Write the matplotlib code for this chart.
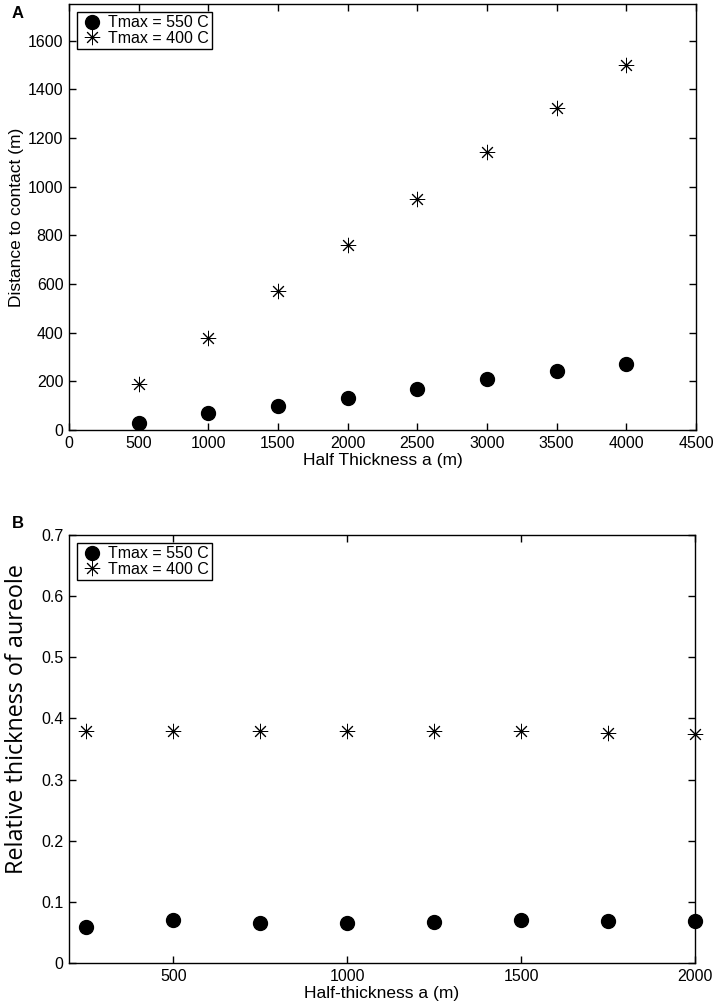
import matplotlib
matplotlib.use('Agg')
import matplotlib.pyplot as plt

plt.rcParams['font.family'] = ['Liberation Sans', 'DejaVu Sans']

# panel A
half_a = [500, 1000, 1500, 2000, 2500, 3000, 3500, 4000]
dist_550 = [30, 70, 100, 132, 170, 208, 243, 272]
dist_400 = [188, 378, 572, 762, 950, 1142, 1322, 1500]

# panel B
half_b = [250, 500, 750, 1000, 1250, 1500, 1750, 2000]
rel_550 = [0.059, 0.070, 0.066, 0.065, 0.067, 0.070, 0.069, 0.068]
rel_400 = [0.380, 0.380, 0.380, 0.380, 0.380, 0.380, 0.377, 0.375]

star = (8, 2, 0)

fig = plt.figure(figsize=(7.17, 10.08), dpi=100)
axA = fig.add_axes([0.0962, 0.5734, 0.8745, 0.4226])
axB = fig.add_axes([0.0962, 0.0446, 0.8731, 0.4246])

def style(ax):
    ax.tick_params(direction='in', top=True, right=True, length=5, width=1,
                   labelsize=11.5, pad=4)
    for s in ax.spines.values():
        s.set_linewidth(1)

def legend(ax):
    leg = ax.legend(loc='upper left', fontsize=11.5, frameon=True, fancybox=False,
                    edgecolor='black', framealpha=1, borderpad=0.2, labelspacing=0.05,
                    handletextpad=0.25, handlelength=1.5, borderaxespad=0.5)
    leg.get_frame().set_linewidth(1)

axA.plot(half_a, dist_550, 'o', color='black', markersize=10, label='Tmax = 550 C')
axA.plot(half_a, dist_400, linestyle='none', marker=star, color='black',
         markersize=11, markeredgewidth=0.7, label='Tmax = 400 C')
axA.set_xlim(0, 4500)
axA.set_ylim(0, 1750)
axA.set_xticks(range(0, 4501, 500))
axA.set_yticks(range(0, 1601, 200))
axA.set_xlabel('Half Thickness a (m)', fontsize=12.5, labelpad=2)
axA.set_ylabel('Distance to contact (m)', fontsize=12.5, labelpad=3)
style(axA)
legend(axA)

axB.plot(half_b, rel_550, 'o', color='black', markersize=10, label='Tmax = 550 C',
         clip_on=False)
axB.plot(half_b, rel_400, linestyle='none', marker=star, color='black',
         markersize=11, markeredgewidth=0.7, label='Tmax = 400 C', clip_on=False)
axB.set_xlim(200, 2000)
axB.set_ylim(0, 0.7)
axB.set_xticks([500, 1000, 1500, 2000])
axB.set_yticks([0, 0.1, 0.2, 0.3, 0.4, 0.5, 0.6, 0.7])
axB.set_yticklabels(['0', '0.1', '0.2', '0.3', '0.4', '0.5', '0.6', '0.7'])
axB.set_xlabel('Half-thickness a (m)', fontsize=12.5, labelpad=2)
axB.set_ylabel('Relative thickness of aureole', fontsize=16.8,
               family=['Open Sans', 'DejaVu Sans'], va='center')
axB.yaxis.set_label_coords(-0.083, 0.57)
style(axB)
legend(axB)

fig.text(12 / 717, 1 - 13 / 1008, 'A', fontsize=12, fontweight='bold', va='center')
fig.text(12 / 717, 1 - 523 / 1008, 'B', fontsize=12, fontweight='bold', va='center')

fig.savefig('out.png', dpi=100)
